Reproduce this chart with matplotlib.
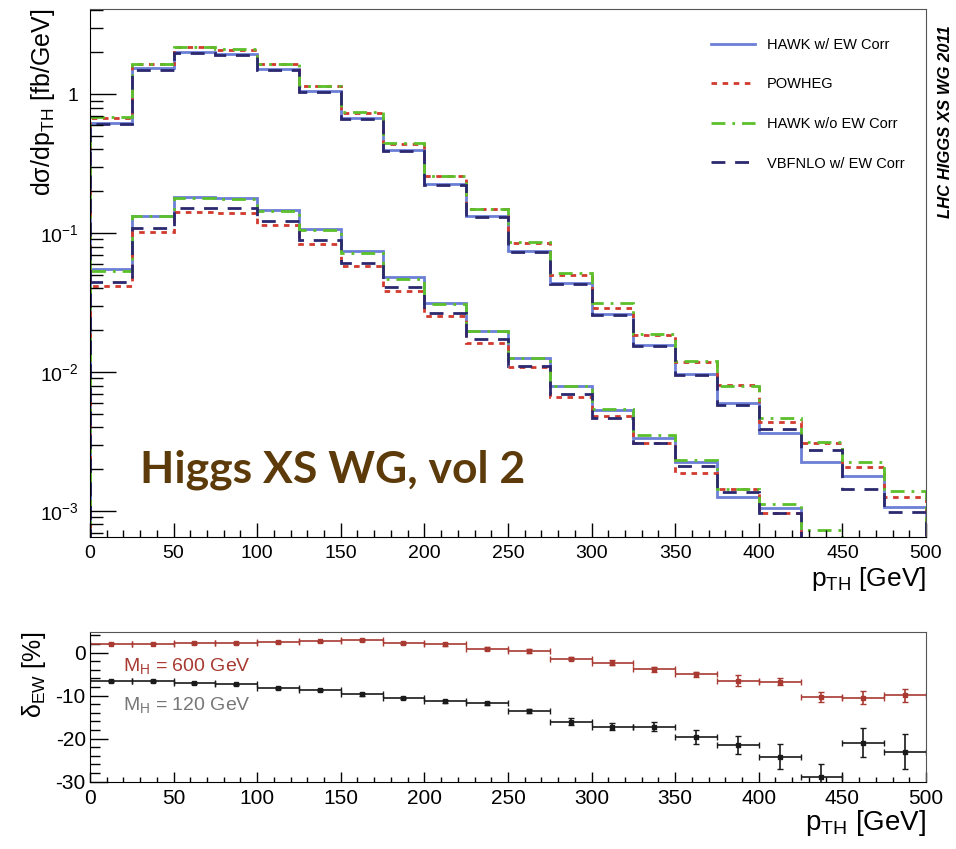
import numpy as np
import matplotlib
matplotlib.use("Agg")
import matplotlib.pyplot as plt
from matplotlib.ticker import MultipleLocator, FixedLocator, FixedFormatter, NullFormatter

plt.rcParams['font.family'] = ['Liberation Sans', 'DejaVu Sans']
plt.rcParams['mathtext.fontset'] = 'custom'
plt.rcParams['mathtext.rm'] = 'Liberation Sans'
plt.rcParams['mathtext.it'] = 'Liberation Sans:italic'
plt.rcParams['axes.unicode_minus'] = False

# bin edges in p_TH [GeV]
edges = np.arange(0, 525, 25)

# upper set of curves
hawk_ew_hi = [0.622, 1.53, 2.01, 1.94, 1.51, 1.056, 0.669, 0.396, 0.225, 0.1325,
              0.0746, 0.0435, 0.0261, 0.0156, 0.00967, 0.00595, 0.00362, 0.00226, 0.00180, 0.00107]
powheg_hi = [0.67, 1.65, 2.17, 2.08, 1.65, 1.14, 0.73, 0.44, 0.258, 0.148,
             0.085, 0.050, 0.0287, 0.0185, 0.0118, 0.00806, 0.00435, 0.00307, 0.00208, 0.00127]
hawk_noew_hi = [0.68, 1.66, 2.19, 2.10, 1.66, 1.147, 0.738, 0.442, 0.258, 0.148,
                0.0857, 0.0513, 0.0315, 0.0187, 0.0120, 0.00793, 0.00469, 0.00315, 0.00226, 0.00140]
vbfnlo_hi = [0.61, 1.50, 1.98, 1.91, 1.48, 1.04, 0.66, 0.39, 0.222, 0.130,
             0.073, 0.0428, 0.0258, 0.0154, 0.0095, 0.00579, 0.00387, 0.00275, 0.00143, 0.00099]

# lower set of curves
hawk_ew_lo = [0.0548, 0.1325, 0.1825, 0.1795, 0.1464, 0.1063, 0.0746, 0.048, 0.0312, 0.0198,
              0.0127, 0.00793, 0.00533, 0.00333, 0.00224, 0.00127, 0.00105, 0.0004, 0.0003, 0.0002]
powheg_lo = [0.0418, 0.1012, 0.1423, 0.140, 0.1142, 0.0834, 0.0582, 0.0385, 0.0254, 0.0161,
             0.0109, 0.00664, 0.00485, 0.00307, 0.00189, 0.00143, 0.00096, 0.0004, 0.0003, 0.0002]
hawk_noew_lo = [0.053, 0.132, 0.178, 0.176, 0.145, 0.105, 0.0722, 0.047, 0.031, 0.0198,
                0.0127, 0.0080, 0.0054, 0.0035, 0.00233, 0.00143, 0.00112, 0.00073, 0.0003, 0.0002]
vbfnlo_lo = [0.0446, 0.1092, 0.1506, 0.1506, 0.122, 0.0891, 0.0611, 0.0407, 0.0267, 0.0172,
             0.01105, 0.00695, 0.00469, 0.00307, 0.00211, 0.00136, 0.00096, 0.0004, 0.0003, 0.0002]

# EW correction [%]
dew_600 = [2.1, 2.1, 2.2, 2.2, 2.4, 2.6, 2.9, 2.2, 1.9, 0.9,
           0.4, -1.4, -2.3, -3.9, -5.0, -6.5, -6.8, -10.3, -10.5, -9.9]
err_600 = [0.2, 0.2, 0.2, 0.2, 0.2, 0.2, 0.3, 0.3, 0.3, 0.3,
           0.4, 0.4, 0.5, 0.5, 0.6, 1.3, 0.8, 1.2, 1.5, 1.5]
dew_120 = [-6.6, -6.6, -7.0, -7.4, -8.2, -8.7, -9.7, -10.5, -11.3, -11.8,
           -13.6, -16.1, -17.2, -17.2, -19.6, -21.5, -24.2, -29.0, -20.9, -23.0]
err_120 = [0.2, 0.2, 0.2, 0.2, 0.2, 0.2, 0.3, 0.3, 0.3, 0.4,
           0.5, 0.8, 0.8, 1.0, 1.7, 2.1, 2.9, 3.2, 3.3, 4.1]

c_blue = '#6b7fd6'
c_red = '#d23a2e'
c_green = '#5cc02a'
c_navy = '#2c2870'

fig = plt.figure(figsize=(9.56, 8.49), dpi=100)
ax = fig.add_axes([0.0941, 0.3675, 0.8745, 0.6219])
ax2 = fig.add_axes([0.0941, 0.0793, 0.8745, 0.1763])

# ---- top panel ----
for hi, lo, col, ls, lab in [
        (hawk_ew_hi, hawk_ew_lo, c_blue, '-', 'HAWK w/ EW Corr'),
        (powheg_hi, powheg_lo, c_red, (0, (2, 2)), 'POWHEG'),
        (hawk_noew_hi, hawk_noew_lo, c_green, (0, (5, 2.5, 1, 2.5)), 'HAWK w/o EW Corr'),
        (vbfnlo_hi, vbfnlo_lo, c_navy, (0, (5, 3.5)), 'VBFNLO w/ EW Corr')]:
    ax.stairs(hi, edges, color=col, ls=ls, lw=2, label=lab)
    ax.stairs(lo, edges, color=col, ls=ls, lw=2)

ax.set_yscale('log')
ax.set_xlim(0, 500)
ax.set_ylim(6.5e-4, 4.1)
ax.xaxis.set_major_locator(MultipleLocator(50))
ax.xaxis.set_minor_locator(MultipleLocator(10))
ax.yaxis.set_major_locator(FixedLocator([1e-3, 1e-2, 1e-1, 1]))
ax.yaxis.set_major_formatter(FixedFormatter(['$10^{-3}$', '$10^{-2}$', '$10^{-1}$', '1']))
ax.yaxis.set_minor_formatter(NullFormatter())
ax.tick_params(axis='both', which='both', direction='in', labelsize=14)
ax.tick_params(axis='x', which='major', length=10, width=1, pad=6)
ax.tick_params(axis='x', which='minor', length=5, width=1)
ax.tick_params(axis='y', which='major', length=19, width=1, pad=8)
ax.tick_params(axis='y', which='minor', length=9, width=1)
for s in ['top', 'right']:
    ax.spines[s].set_color('#555555')
ax.set_xlabel('p$_{\\mathrm{TH}}$ [GeV]', fontsize=19, loc='right', labelpad=2)
ax.set_ylabel('dσ/dp$_{\\mathrm{TH}}$ [fb/GeV]', fontsize=18, loc='top')
ax.yaxis.set_label_coords(-0.04, 1.0)

ax.legend(loc='upper right', bbox_to_anchor=(0.99, 0.97), frameon=False, fontsize=10.5,
          handlelength=3.0, labelspacing=1.75, handletextpad=0.8)

ax.text(0.06, 0.103, 'Higgs XS WG, vol 2', transform=ax.transAxes, fontsize=32,
        fontweight='bold', color='#5c3a0a', family='Lato')
fig.text(0.989, 0.857, 'LHC HIGGS XS WG 2011', rotation=90, fontsize=12,
         fontweight='bold', style='italic', ha='center', va='center')

# ---- bottom panel ----
centers = 0.5 * (edges[:-1] + edges[1:])
ax2.errorbar(centers, dew_600, xerr=12.5, yerr=err_600, fmt='s', ms=2.5, color='#a83a32',
             elinewidth=1.2, capsize=2.5, capthick=1)
ax2.errorbar(centers, dew_120, xerr=12.5, yerr=err_120, fmt='s', ms=2.5, color='#1a1a1a',
             elinewidth=1.2, capsize=2.5, capthick=1)
ax2.set_xlim(0, 500)
ax2.set_ylim(-30, 4.8)
ax2.xaxis.set_major_locator(MultipleLocator(50))
ax2.xaxis.set_minor_locator(MultipleLocator(10))
ax2.yaxis.set_major_locator(MultipleLocator(10))
ax2.yaxis.set_minor_locator(MultipleLocator(2))
ax2.tick_params(axis='both', which='both', direction='in', labelsize=15)
ax2.tick_params(axis='x', which='major', length=7, width=1, pad=5)
ax2.tick_params(axis='x', which='minor', length=3.5, width=1)
ax2.tick_params(axis='y', which='major', length=13, width=1, pad=3)
ax2.tick_params(axis='y', which='minor', length=7, width=1)
for s in ['top', 'right']:
    ax2.spines[s].set_color('#555555')
ax2.set_xlabel('p$_{\\mathrm{TH}}$ [GeV]', fontsize=20, loc='right', labelpad=0)
ax2.set_ylabel('δ$_{\\mathrm{EW}}$ [%]', fontsize=18, loc='top')
ax2.yaxis.set_label_coords(-0.05, 1.0)

ax2.text(0.04, 0.74, 'M$_{\\mathrm{H}}$ = 600 GeV', transform=ax2.transAxes,
         fontsize=14, color='#a83a32')
ax2.text(0.04, 0.48, 'M$_{\\mathrm{H}}$ = 120 GeV', transform=ax2.transAxes,
         fontsize=14, color='#777777')

fig.savefig('out.png', dpi=100)
